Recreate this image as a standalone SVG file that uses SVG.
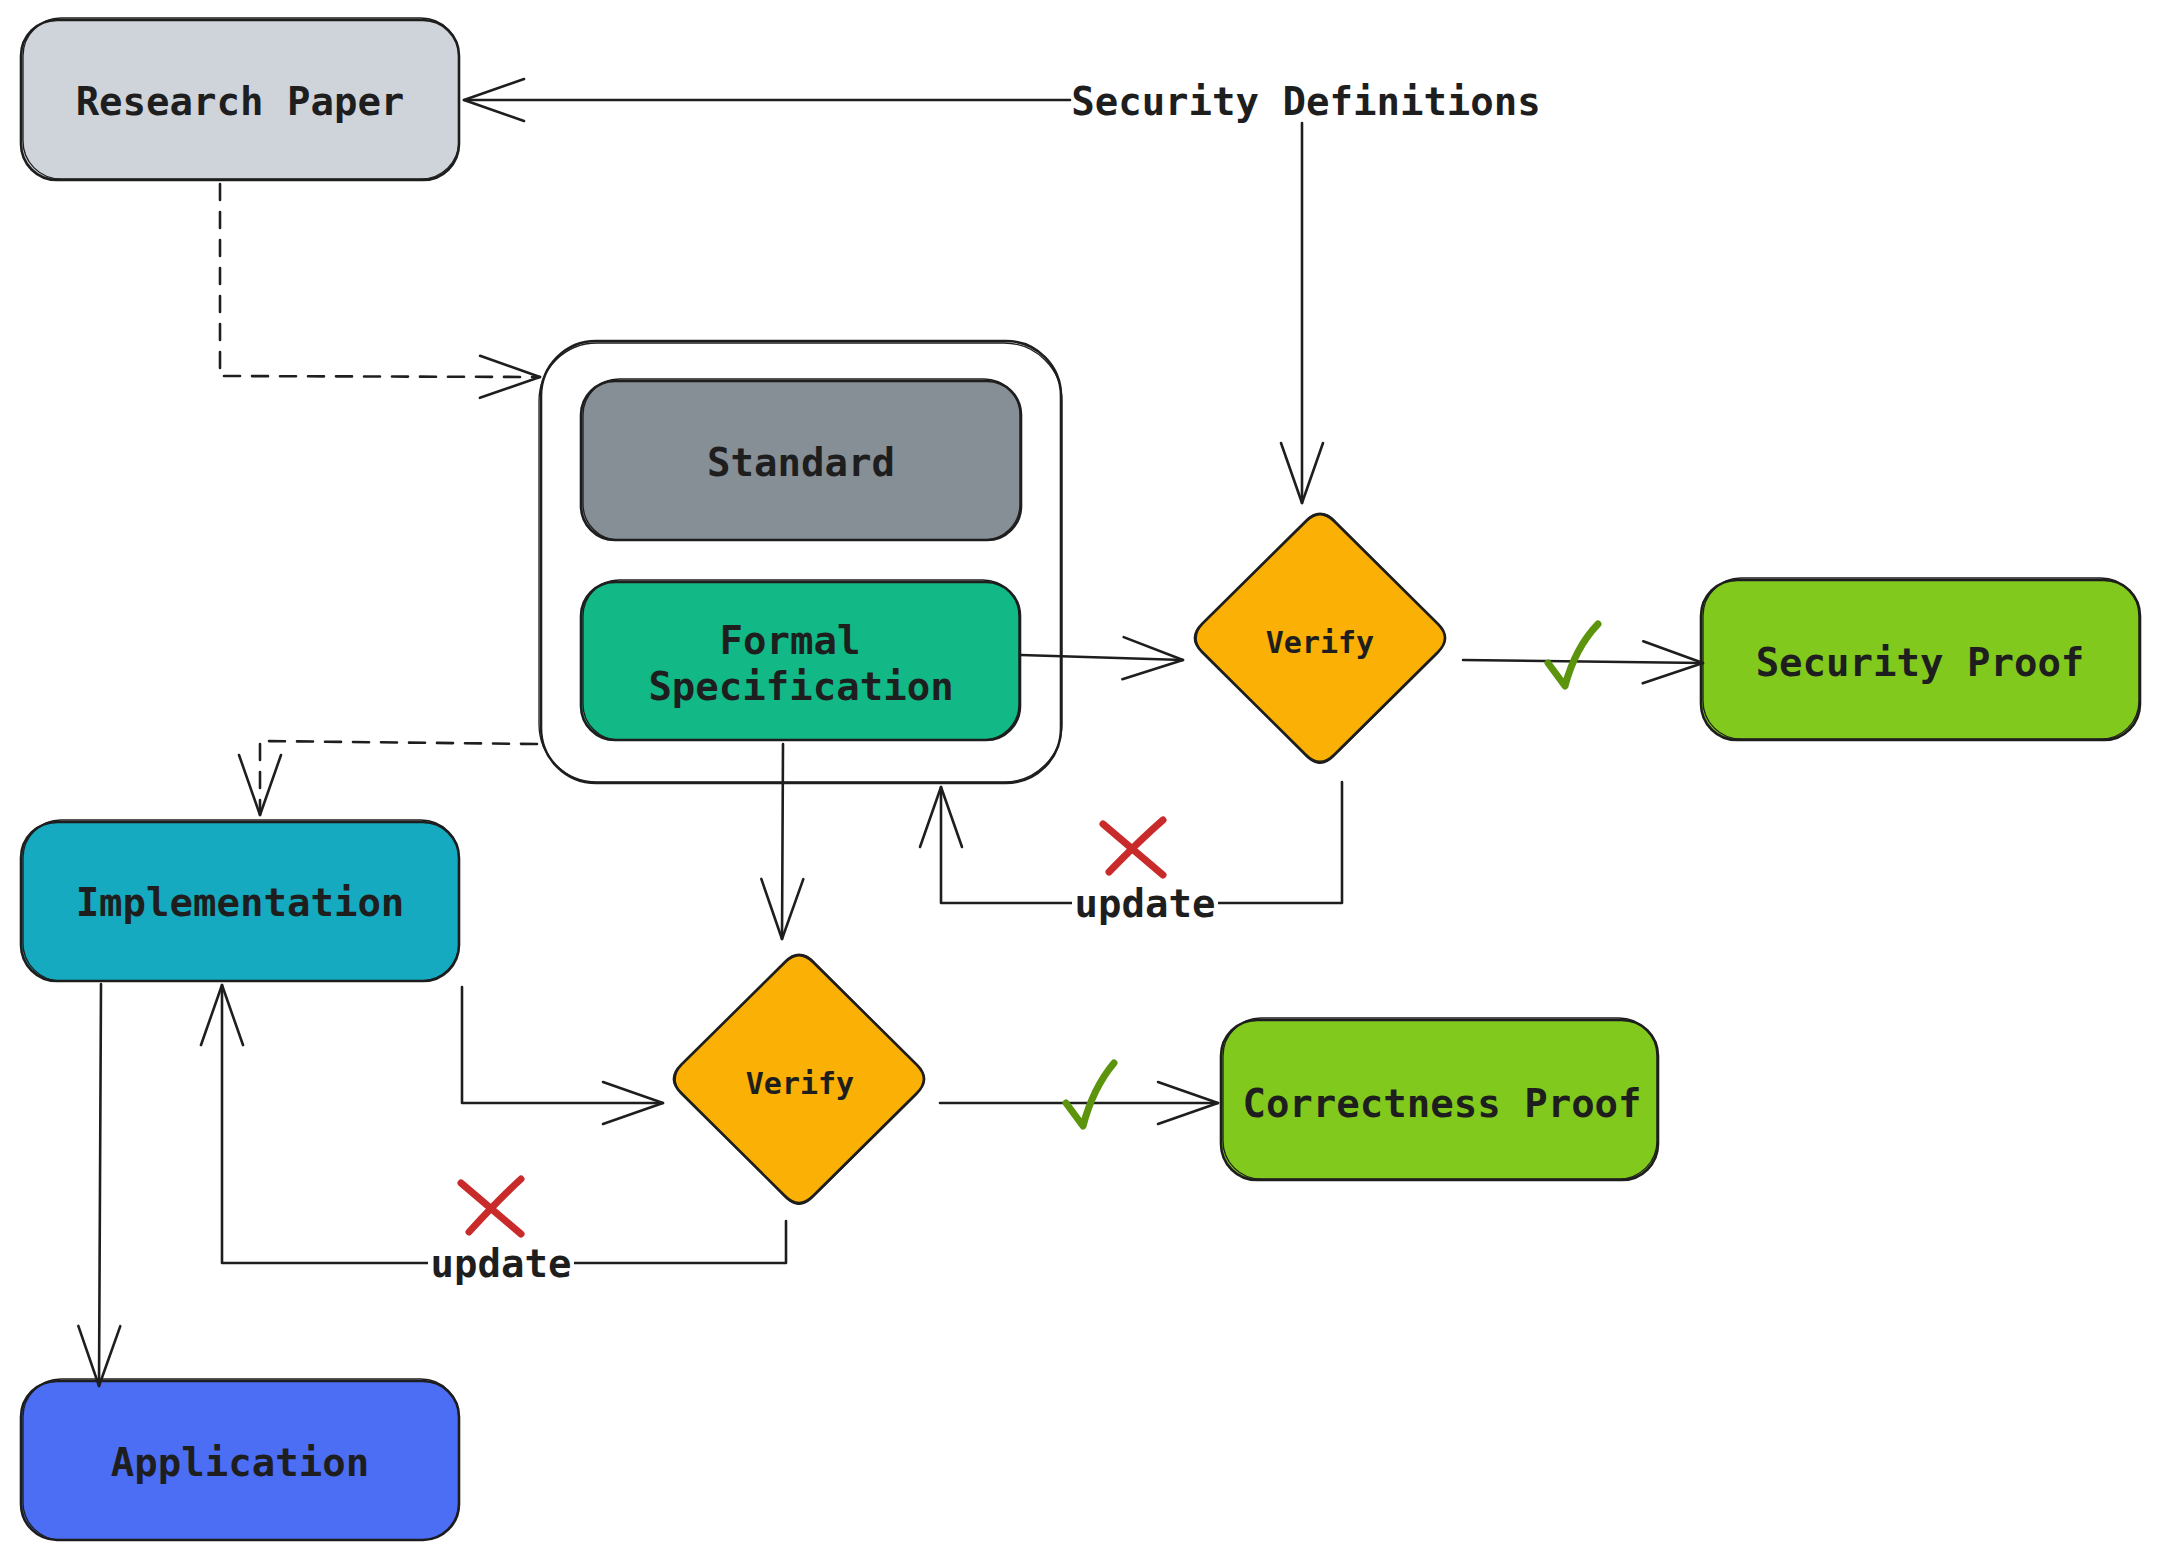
<svg xmlns="http://www.w3.org/2000/svg" width="2160" height="1560" viewBox="0 0 2160 1560">
<style>
  .box { stroke: #1e1e1e; stroke-width: 2.6; }
  .sk { fill: none; stroke: #1e1e1e; stroke-width: 1.3; }
  .lbl { font-family: "DejaVu Sans Mono", "Liberation Mono", monospace; font-weight: bold; font-size: 39px; fill: #1e1e1e; text-anchor: middle; dominant-baseline: central; }
  .small { font-size: 30px; }
  .edge { fill: none; stroke: #1e1e1e; stroke-width: 2.6; stroke-linejoin: round; stroke-linecap: round; }
  .dash { stroke-dasharray: 16 12; }
  .arrow { marker-end: url(#ah); }
  .check { fill: none; stroke: #5c940d; stroke-width: 7; stroke-linecap: round; stroke-linejoin: round; }
  .cross { fill: none; stroke: #c92a2a; stroke-width: 7; stroke-linecap: round; }
</style>
<defs>
  <marker id="ah" markerUnits="userSpaceOnUse" viewBox="-70 -30 80 60" markerWidth="80" markerHeight="60" refX="0" refY="0" orient="auto" overflow="visible">
    <path d="M -60,-21 L 0,0 L -60,21" fill="none" stroke="#1e1e1e" stroke-width="2.6" stroke-linecap="round" stroke-linejoin="round"/>
  </marker>
</defs>
<rect x="0" y="0" width="2160" height="1560" fill="#ffffff"/>

<g id="security-definitions">
  <text class="lbl" x="1306" y="101">Security Definitions</text>
</g>

<g id="research-paper">
  <rect class="box" x="21" y="20" width="438" height="160" rx="36" fill="#ced4da"/>
  <rect class="sk" x="23" y="18" width="436" height="161" rx="38"/>
  <text class="lbl" x="240" y="101">Research Paper</text>
</g>

<g id="spec-group">
  <rect class="box" x="541" y="341" width="520" height="442" rx="55" fill="#ffffff"/>
  <rect class="sk" x="539" y="343" width="523" height="439" rx="58"/>
</g>

<g id="standard">
  <rect class="box" x="581" y="381" width="440" height="159" rx="34" fill="#868e96"/>
  <rect class="sk" x="583" y="379" width="437" height="161" rx="36"/>
  <text class="lbl" x="801" y="462">Standard</text>
</g>

<g id="formal-specification">
  <rect class="box" x="581" y="582" width="439" height="158" rx="34" fill="#12b886"/>
  <rect class="sk" x="583" y="580" width="436" height="160" rx="36"/>
  <text class="lbl" x="790" y="640">Formal</text>
  <text class="lbl" x="801" y="686">Specification</text>
</g>

<g id="verify-security">
  <path class="box" fill="#fab005" d="M 1306,521 Q 1320,507 1334,521 L 1438,624 Q 1452,638 1438,652 L 1334,755 Q 1320,769 1306,755 L 1202,652 Q 1188,638 1202,624 Z"/>
  <path class="sk" d="M 1305,523 Q 1321,505 1336,522 L 1440,626 Q 1451,639 1437,654 L 1333,757 Q 1319,771 1304,754 L 1201,650 Q 1190,637 1204,622 Z"/>
  <text class="lbl small" x="1320" y="642">Verify</text>
</g>

<g id="security-proof">
  <rect class="box" x="1701" y="580" width="439" height="160" rx="36" fill="#82c91e"/>
  <rect class="sk" x="1703" y="578" width="436" height="161" rx="38"/>
  <text class="lbl" x="1920" y="662">Security Proof</text>
</g>

<g id="implementation">
  <rect class="box" x="21" y="822" width="438" height="159" rx="36" fill="#15aabf"/>
  <rect class="sk" x="23" y="820" width="436" height="161" rx="38"/>
  <text class="lbl" x="240" y="902">Implementation</text>
</g>

<g id="verify-correctness">
  <path class="box" fill="#fab005" d="M 785,962 Q 799,948 813,962 L 917,1065 Q 931,1079 917,1093 L 813,1196 Q 799,1210 785,1196 L 681,1093 Q 667,1079 681,1065 Z"/>
  <path class="sk" d="M 784,964 Q 800,946 815,963 L 919,1067 Q 930,1080 916,1095 L 812,1198 Q 798,1212 783,1195 L 680,1091 Q 669,1078 683,1063 Z"/>
  <text class="lbl small" x="800" y="1083">Verify</text>
</g>

<g id="correctness-proof">
  <rect class="box" x="1221" y="1020" width="437" height="160" rx="36" fill="#82c91e"/>
  <rect class="sk" x="1223" y="1018" width="434" height="161" rx="38"/>
  <text class="lbl" x="1442" y="1103">Correctness Proof</text>
</g>

<g id="application">
  <rect class="box" x="21" y="1381" width="438" height="159" rx="36" fill="#4c6ef5"/>
  <rect class="sk" x="23" y="1379" width="436" height="161" rx="38"/>
  <text class="lbl" x="240" y="1462">Application</text>
</g>

<g id="connectors">
  <path class="edge arrow" d="M 1070,100 L 464,100"/>
  <path class="edge arrow" d="M 1302,123 L 1302,503"/>
  <path class="edge dash arrow" d="M 220,184 L 220,376 L 540,377"/>
  <path class="edge dash arrow" d="M 537,744 L 260,741 L 260,815"/>
  <path class="edge arrow" d="M 1021,655 L 1183,660"/>
  <path class="edge arrow" d="M 1463,660 L 1703,663"/>
  <path class="edge arrow" d="M 1342,782 L 1342,903 L 941,903 L 941,787"/>
  <path class="edge arrow" d="M 783,744 L 782,939"/>
  <path class="edge arrow" d="M 462,987 L 462,1103 L 663,1103"/>
  <path class="edge arrow" d="M 940,1103 L 1218,1103"/>
  <path class="edge arrow" d="M 786,1221 L 786,1263 L 222,1263 L 222,985"/>
  <path class="edge arrow" d="M 101,984 L 99,1386"/>
  <rect x="1072" y="880" width="146" height="46" fill="#ffffff"/>
  <text class="lbl" x="1145" y="903">update</text>
  <rect x="428" y="1240" width="146" height="46" fill="#ffffff"/>
  <text class="lbl" x="501" y="1263">update</text>
  <path class="check" d="M 1548,663 L 1565,686 Q 1575,648 1598,624"/>
  <path class="check" d="M 1066,1103 L 1083,1126 Q 1093,1088 1114,1063"/>
  <path class="cross" d="M 1103,824 L 1163,875 M 1163,820 Q 1140,840 1109,872"/>
  <path class="cross" d="M 461,1183 L 521,1234 M 521,1179 Q 498,1200 469,1232"/>
</g>
</svg>
